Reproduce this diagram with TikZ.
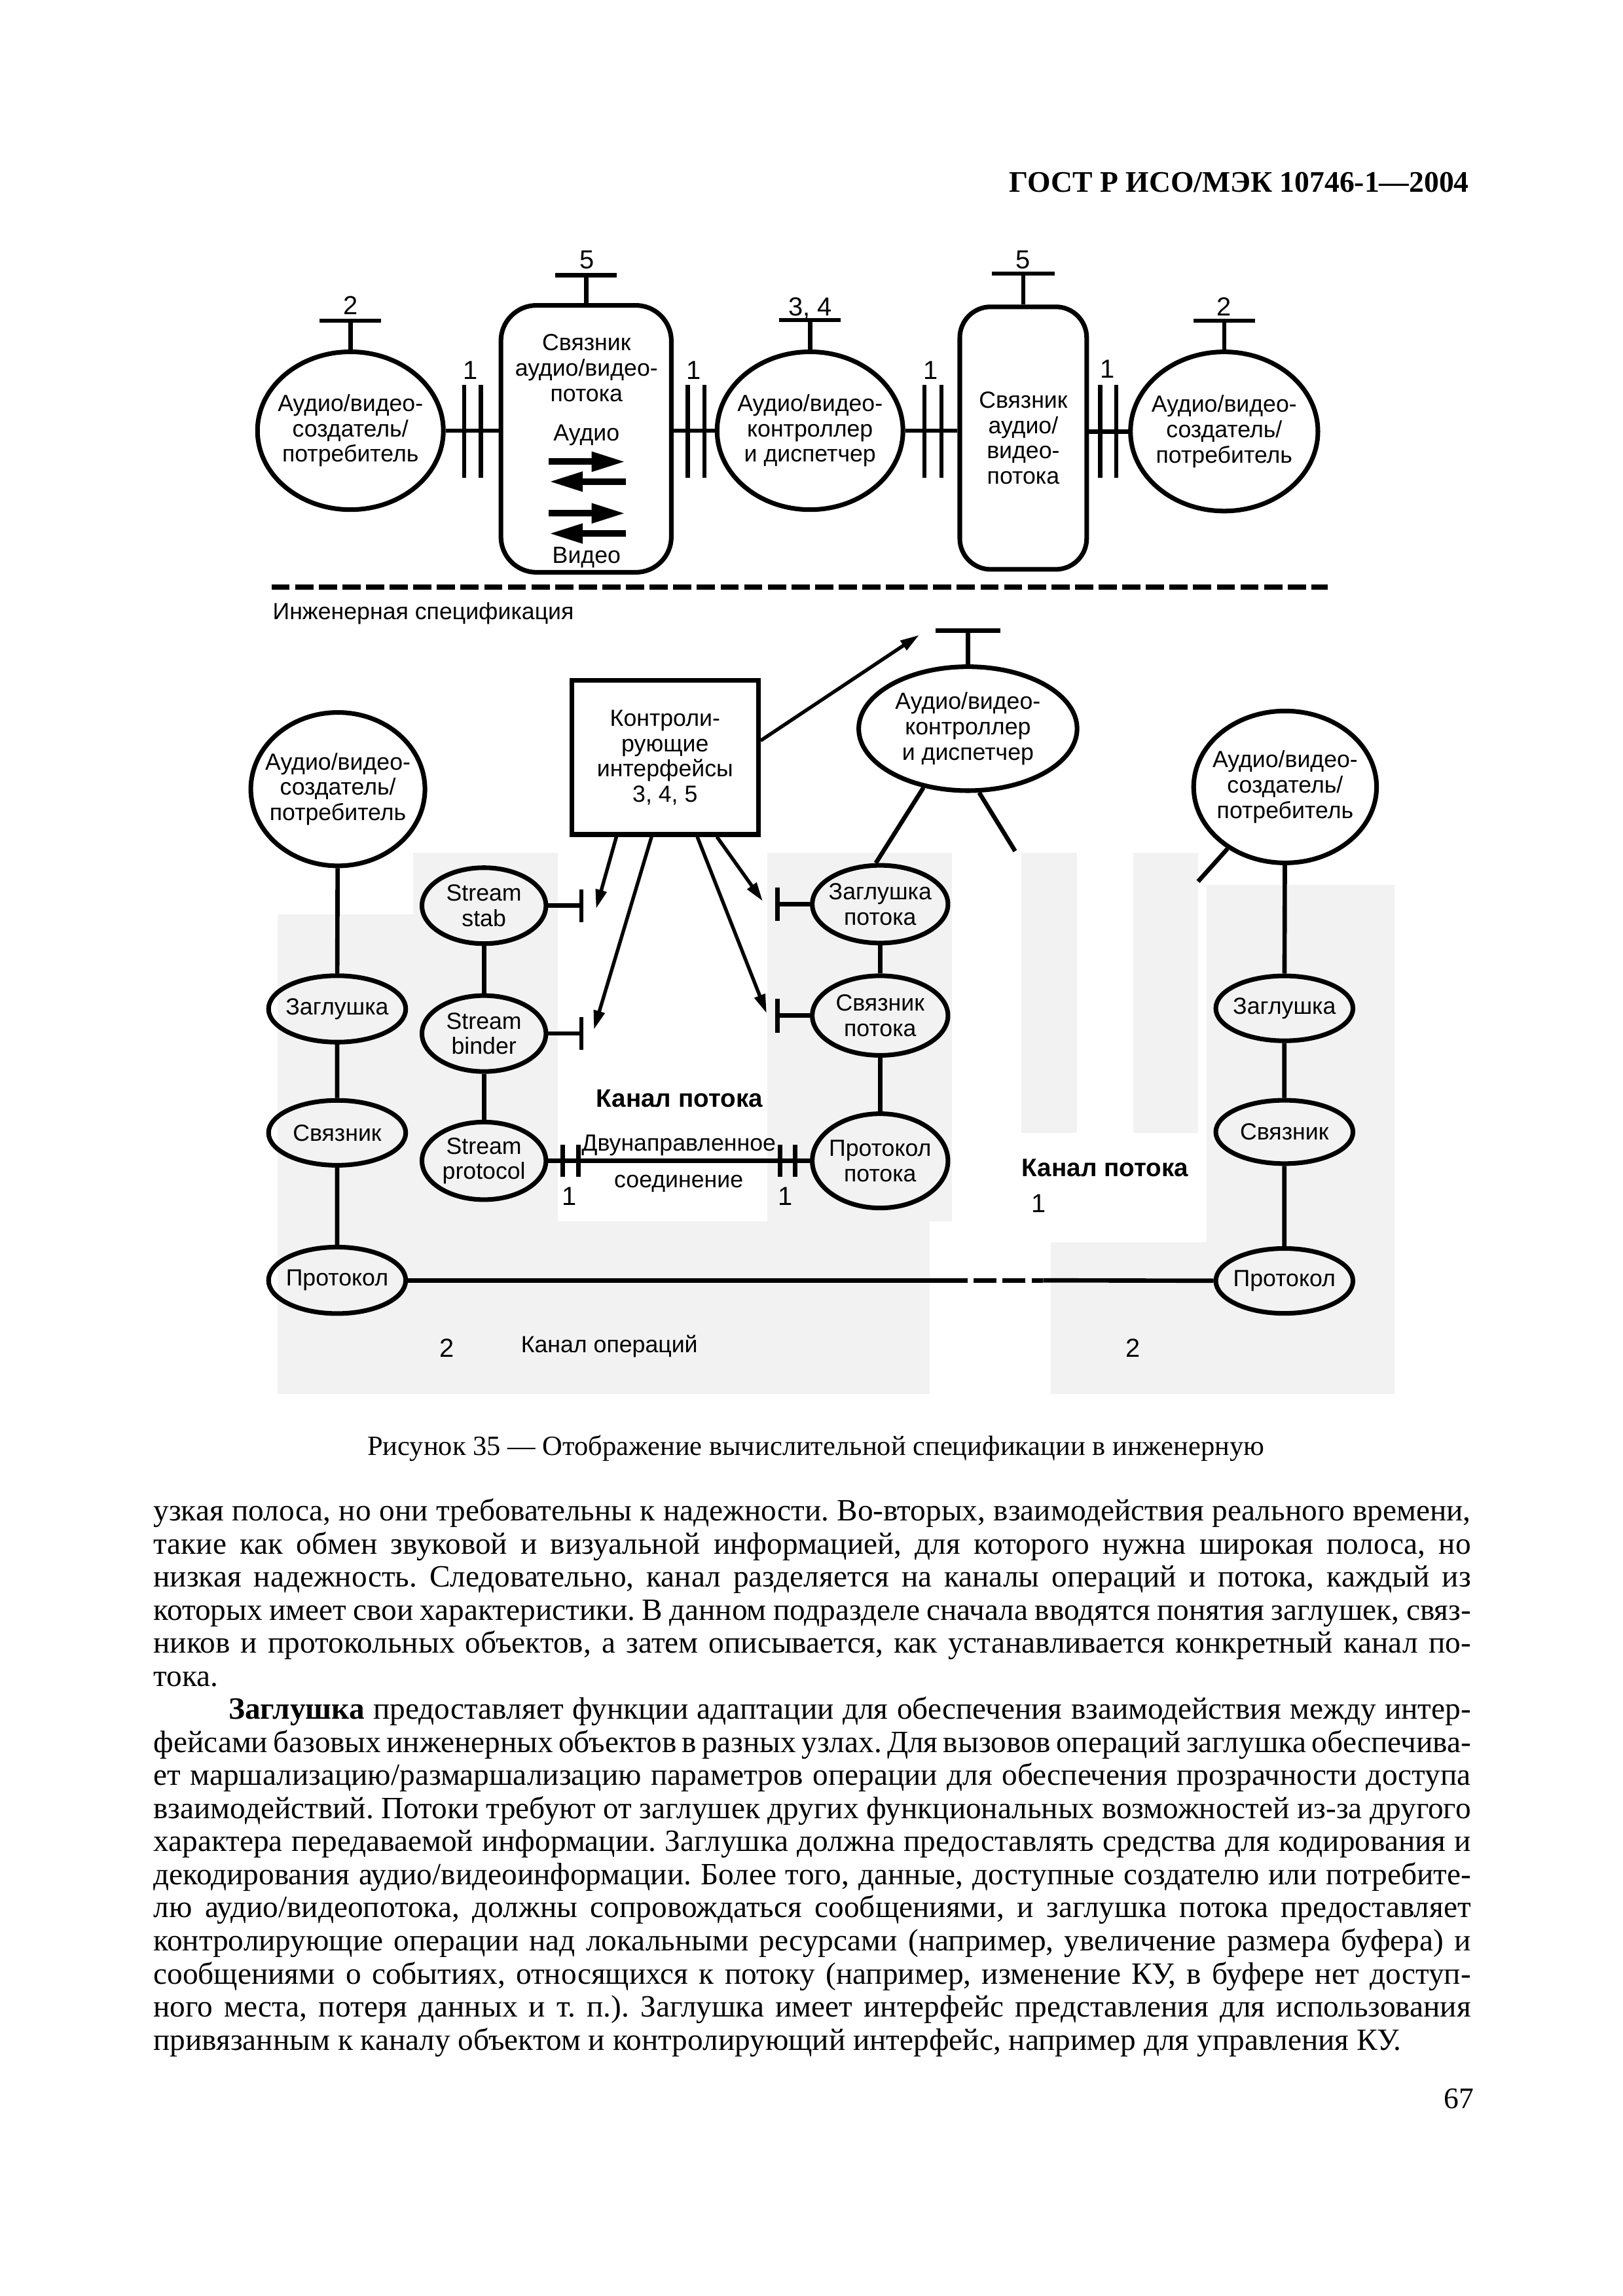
\documentclass[tikz,border=0pt]{standalone}
\usepackage{fontspec}
\setmainfont{Liberation Serif}
\newfontfamily\sansf{Liberation Sans}
\usetikzlibrary{shapes.geometric,arrows.meta}
\newcommand\diagfont{\sansf\fontsize{8.6}{9.3}\selectfont}
\newcommand\jl[1]{\hbox to 485pt{#1}}
\tikzset{
  oval/.style={draw, ellipse, line width=1.7pt, inner sep=-3mm, align=center, font=\diagfont},
  capsule/.style={draw, rectangle, rounded corners=4.6mm, line width=1.7pt, inner sep=-3mm, align=center, font=\diagfont},
  ctrlbox/.style={draw, rectangle, line width=1.7pt, inner sep=-3mm, align=center, font=\diagfont},
  lbl/.style={inner sep=0pt, font=\diagfont},
  numlbl/.style={inner sep=0pt, font=\sansf\fontsize{9.6}{10}\selectfont},
  chanlbl/.style={inner sep=0pt, font=\sansf\bfseries\fontsize{9.3}{10}\selectfont},
  ln/.style={line width=1.6pt},
  fat/.style={line width=2.4pt, -{Triangle[length=12.5pt,width=6.8pt]}},
  ctl/.style={line width=1.3pt, -{Triangle[length=7pt,width=4pt]}},
  zone/.style={fill=black!5, draw=none},
}
\begin{document}
\begin{tikzpicture}[x=0.19091mm, y=-0.19091mm]
    \useasboundingbox (0,0) rectangle (1100,1556.6);

    % page header
    \node[anchor=base east, inner sep=0pt, font=\bfseries\fontsize{11}{12}\selectfont] (gost) at (996,130.4) {ГОСТ Р ИСО/МЭК 10746-1—2004};

    % shaded zones of the engineering view
    \fill[zone] (188,620) rectangle (292,945);
    \fill[zone] (280,578) rectangle (378,828);
    \fill[zone] (188,828) rectangle (630,945);
    \fill[zone] (520,578) rectangle (645,828);
    \fill[zone] (692,578) rectangle (730,768);
    \fill[zone] (768,578) rectangle (812,768);
    \fill[zone] (818,600) rectangle (945,945);
    \fill[zone] (712,842) rectangle (818,945);

    % computational view (top row)
    \node[oval, minimum width=24.05mm, minimum height=20.43mm] (src1) at (237.5,292) {Аудио/видео-\\создатель/\\потребитель};
    \node[capsule, minimum width=22.05mm, minimum height=34.55mm] (bind1) at (397.25,297.5) {};
    \node[lbl, align=center] (bind1txt) at (397.5,249.5) {Связник\\аудио/видео-\\потока};
    \node[lbl] (audio) at (397.5,295) {Аудио};
    \node[lbl] (video) at (397.5,378) {Видео};
    \draw[fat] (372,313) -- (424,313);
    \draw[fat] (424,326.5) -- (372,326.5);
    \draw[fat] (372,348) -- (424,348);
    \draw[fat] (424,361.7) -- (372,361.7);
    \node[oval, minimum width=24.05mm, minimum height=20.43mm] (ctl1) at (549,292) {Аудио/видео-\\контроллер\\и диспетчер};
    \node[capsule, rounded corners=4mm, minimum width=16.42mm, minimum height=33.98mm] (bind2) at (693.5,297) {Связник\\аудио/\\видео-\\потока};
    \node[oval, minimum width=24.25mm, minimum height=20.6mm] (src2) at (829.7,292.5) {Аудио/видео-\\создатель/\\потребитель};

    % stream interfaces 1
    \draw[ln] (src1.east) -- (src1.east -| bind1.west);
    \draw[ln] (bind1.east |- ctl1.west) -- (ctl1.west);
    \draw[ln] (ctl1.east) -- (ctl1.east -| bind2.west);
    \draw[ln] (bind2.east |- src2.west) -- (src2.west);
    \draw[ln] (314.6,261) -- (314.6,324) (326,261) -- (326,324);
    \draw[ln] (466,261) -- (466,324) (477.5,261) -- (477.5,324);
    \draw[ln] (626.5,261) -- (626.5,324) (638,261) -- (638,324);
    \draw[ln] (745.7,261) -- (745.7,324) (756.6,261) -- (756.6,324);
    \node[numlbl] (if1a) at (319,251) {1};
    \node[numlbl] (if1b) at (470,251) {1};
    \node[numlbl] (if1c) at (631,251) {1};
    \node[numlbl] (if1d) at (750.6,250) {1};

    % operational interfaces on top
    \draw[ln] (src1.north) -- ++(0,-19.5) coordinate (src1t);
    \draw[ln] ([xshift=-4mm]src1t) -- ([xshift=4mm]src1t);
    \node[numlbl] (src1num) at (237.5,207) {2};
    \draw[ln] (bind1.north) -- ++(0,-19) coordinate (bind1t);
    \draw[ln] ([xshift=-4mm]bind1t) -- ([xshift=4mm]bind1t);
    \node[numlbl] (bind1num) at (398,176) {5};
    \draw[ln] (ctl1.north) -- ++(0,-20) coordinate (ctl1t);
    \draw[ln] ([xshift=-4mm]ctl1t) -- ([xshift=4mm]ctl1t);
    \node[numlbl] (ctl1num) at (549,209) {3, 4};
    \draw[ln] (bind2.north) -- ++(0,-21) coordinate (bind2t);
    \draw[ln] ([xshift=-4.1mm]bind2t) -- ([xshift=4.1mm]bind2t);
    \node[numlbl] (bind2num) at (693.5,176) {5};
    \draw[ln] (src2.north) -- ++(0,-19.5) coordinate (src2t);
    \draw[ln] ([xshift=-4mm]src2t) -- ([xshift=4mm]src2t);
    \node[numlbl] (src2num) at (829.5,208) {2};

    % separator
    \draw[line width=1.9pt, dash pattern=on 6.7pt off 2pt] (184,398) -- (900,398);
    \node[lbl, anchor=west] (engspec) at (184.5,416) {Инженерная спецификация};

    % control interfaces and controller
    \node[ctrlbox, minimum width=24.15mm, minimum height=19.91mm] (ctrl) at (450.75,513.6) {Контроли-\\рующие\\интерфейсы\\3, 4, 5};
    \node[oval, minimum width=28.25mm, minimum height=16.04mm] (ctl2) at (656,494) {Аудио/видео-\\контроллер\\и диспетчер};
    \draw[ln] (ctl2.north) -- ++(0,-23) coordinate (ctl2t);
    \draw[ln] ([xshift=-4.2mm]ctl2t) -- ([xshift=4.2mm]ctl2t);
    \coordinate (ctl2arr) at (623,430.5);
    \draw[ctl] ([yshift=2.2mm]ctrl.east) -- (ctl2arr);

    % left node
    \node[oval, minimum width=22.53mm, minimum height=19.85mm] (src3) at (229,535) {Аудио/видео-\\создатель/\\потребитель};
    \node[oval, minimum width=17.75mm, minimum height=8.6mm] (stubL) at (228.5,684) {Заглушка};
    \node[oval, minimum width=17.75mm, minimum height=8.4mm] (bindL) at (228.5,768) {Связник};
    \node[oval, minimum width=17.75mm, minimum height=8.6mm] (protL) at (228.5,868) {Протокол};
    \draw[ln] (src3) -- (stubL) -- (bindL) -- (protL);

    % stream objects, left side
    \node[oval, minimum width=16.04mm, minimum height=9.83mm] (sstab) at (328,614) {Stream\\stab};
    \node[oval, minimum width=16.04mm, minimum height=9.83mm] (sbind) at (328,700.7) {Stream\\binder};
    \node[oval, minimum width=16.04mm, minimum height=10.04mm] (sprot) at (328,787) {Stream\\protocol};
    \draw[ln] (sstab) -- (sbind) -- (sprot);
    \draw[ln] (sstab.east) -- ++(22.5,0) coordinate (sstabt);
    \draw[ln] ([yshift=-2.1mm]sstabt) -- ([yshift=2.1mm]sstabt);
    \draw[ln] (sbind.east) -- ++(22.5,0) coordinate (sbindt);
    \draw[ln] ([yshift=-2.1mm]sbindt) -- ([yshift=2.1mm]sbindt);

    % stream objects, right side
    \node[oval, minimum width=17.56mm, minimum height=10.06mm] (pstub) at (596.5,613) {Заглушка\\потока};
    \node[oval, minimum width=17.56mm, minimum height=10.3mm] (pbind) at (596.5,688.5) {Связник\\потока};
    \node[oval, minimum width=17.56mm, minimum height=12.2mm] (pprot) at (596.5,787) {Протокол\\потока};
    \draw[ln] (pstub) -- (pbind) -- (pprot);
    \draw[ln] (pstub.west) -- ++(-22,0) coordinate (pstubt);
    \draw[ln] ([yshift=-2.2mm]pstubt) -- ([yshift=2.2mm]pstubt);
    \draw[ln] (pbind.west) -- ++(-22,0) coordinate (pbindt);
    \draw[ln] ([yshift=-2.2mm]pbindt) -- ([yshift=2.2mm]pbindt);

    % control arrows
    \coordinate (arr1) at (404,616);
    \coordinate (arr2) at (402.5,698);
    \coordinate (arr3) at (519.6,687);
    \coordinate (arr4) at (517,611);
    \draw[ctl] ([xshift=-6.3mm]ctrl.south) -- (arr1);
    \draw[ctl] ([xshift=-1.75mm]ctrl.south) -- (arr2);
    \draw[ctl] ([xshift=4.17mm]ctrl.south) -- (arr3);
    \draw[ctl] ([xshift=6.71mm]ctrl.south) -- (arr4);
    \coordinate (ctl2free) at (688,577);
    \draw[ln] (ctl2.233) -- (pstub.96);
    \draw[ln] (ctl2.280) -- (ctl2free);

    % bidirectional connection
    \draw[ln] (sprot) -- (pprot);
    \draw[ln] (381.3,776) -- (381.3,798) (392,776) -- (392,798);
    \draw[ln] (528.6,776) -- (528.6,798) (539,776) -- (539,798);
    \node[lbl] (bidir1) at (460,776.7) {Двунаправленное};
    \node[lbl] (bidir2) at (460,802.4) {соединение};
    \node[numlbl] (bif1) at (386,811) {1};
    \node[numlbl] (bif2) at (532.3,811) {1};
    \node[chanlbl] (chan1) at (460.5,744.8) {Канал потока};

    % right node
    \node[oval, minimum width=23.67mm, minimum height=19.66mm] (src4) at (871,533.5) {Аудио/видео-\\создатель/\\потребитель};
    \node[oval, minimum width=17.75mm, minimum height=8.4mm] (stubR) at (870.5,683.6) {Заглушка};
    \node[oval, minimum width=17.75mm, minimum height=8.2mm] (bindR) at (870.5,767.4) {Связник};
    \node[oval, minimum width=17.75mm, minimum height=8.4mm] (protR) at (870.5,868.4) {Протокол};
    \draw[ln] (src4) -- (stubR) -- (bindR) -- (protR);
    \coordinate (src4free) at (812,597.6);
    \draw[ln] (src4.227) -- (src4free);
    \node[chanlbl] (chan2) at (749,792) {Канал потока};
    \node[numlbl] (chan2num) at (704,816) {1};

    % operations channel
    \coordinate (opd1) at (640,868);
    \coordinate (opd2) at (707,868);
    \draw[ln] (protL) -- (opd1);
    \draw[ln, dash pattern=on 8.5pt off 2.2pt] (opd1) -- (opd2);
    \draw[ln] (opd2) -- (protR);
    \node[numlbl] (ops1) at (302.7,914) {2};
    \node[lbl] (ops) at (413,912.7) {Канал операций};
    \node[numlbl] (ops2) at (767.7,914) {2};

    % caption and text
    \node[anchor=base, inner sep=0pt, font=\fontsize{10.25}{12}\selectfont] (caption) at (553,986.6) {Рисунок 35 — Отображение вычислительной спецификации в инженерную};
    \node[anchor=base west, inner sep=0pt] (body) at (103.7,1031) {\begin{minipage}[t]{485pt}\fontsize{11.4}{12.18}\selectfont\baselineskip=12.18pt\frenchspacing
\jl{узкая полоса, но они требовательны к надежности. Во-вторых, взаимодействия реального времени,}
\jl{такие как обмен звуковой и визуальной информацией, для которого нужна широкая полоса, но}
\jl{низкая надежность. Следовательно, канал разделяется на каналы операций и потока, каждый из}
\jl{которых имеет свои характеристики. В данном подразделе сначала вводятся понятия заглушек, связ-}
\jl{ников и протокольных объектов, а затем описывается, как устанавливается конкретный канал по-}
\hbox{тока.}
\jl{\hskip 27.6pt\textbf{Заглушка} предоставляет функции адаптации для обеспечения взаимодействия между интер-}
\jl{фейсами базовых инженерных объектов в разных узлах. Для вызовов операций заглушка обеспечива-}
\jl{ет маршализацию/размаршализацию параметров операции для обеспечения прозрачности доступа}
\jl{взаимодействий. Потоки требуют от заглушек других функциональных возможностей из-за другого}
\jl{характера передаваемой информации. Заглушка должна предоставлять средства для кодирования и}
\jl{декодирования аудио/видеоинформации. Более того, данные, доступные создателю или потребите-}
\jl{лю аудио/видеопотока, должны сопровождаться сообщениями, и заглушка потока предоставляет}
\jl{контролирующие операции над локальными ресурсами (например, увеличение размера буфера) и}
\jl{сообщениями о событиях, относящихся к потоку (например, изменение КУ, в буфере нет доступ-}
\jl{ного места, потеря данных и т. п.). Заглушка имеет интерфейс представления для использования}
\hbox{привязанным к каналу объектом и контролирующий интерфейс, например для управления КУ.}
\end{minipage}};
    \node[anchor=base east, inner sep=0pt, font=\fontsize{11}{12}\selectfont] (pageno) at (999.4,1429.5) {67};
\end{tikzpicture}
\end{document}
